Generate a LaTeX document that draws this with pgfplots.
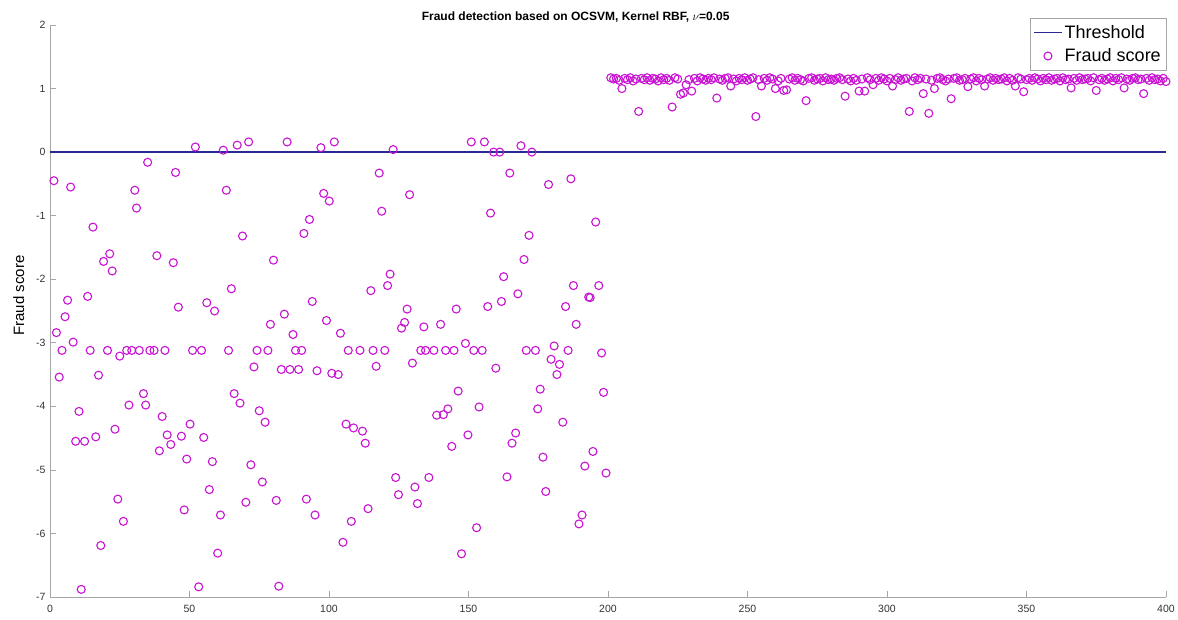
\documentclass[border=0pt]{standalone}
\usepackage{pgfplots}
\pgfplotsset{compat=1.18}
\usepackage{pgfplotstable}
\usepackage{fontspec}
\setmainfont{Liberation Sans}
\definecolor{thr}{RGB}{40,40,150}
\definecolor{mag}{RGB}{200,20,210}

\pgfplotstableread[row sep=\\]{
x y\\
1.4 -0.45\\ 2.3 -2.84\\ 3.3 -3.54\\ 4.3 -3.12\\ 5.4 -2.59\\ 6.3 -2.33\\ 7.4 -0.55\\ 8.3 -2.99\\ 9.2 -4.55\\ 10.4 -4.08\\
11.2 -6.88\\ 12.4 -4.55\\ 13.5 -2.27\\ 14.4 -3.12\\ 15.4 -1.18\\ 16.4 -4.48\\ 17.4 -3.51\\ 18.2 -6.19\\ 19.2 -1.72\\ 20.6 -3.12\\
21.4 -1.60\\ 22.3 -1.87\\ 23.3 -4.36\\ 24.3 -5.46\\ 25.0 -3.21\\ 26.3 -5.81\\ 27.5 -3.12\\ 28.3 -3.98\\ 29.3 -3.12\\ 30.4 -0.60\\
31.0 -0.88\\ 32.0 -3.12\\ 33.5 -3.80\\ 34.3 -3.98\\ 35.0 -0.16\\ 35.8 -3.12\\ 37.3 -3.12\\ 38.3 -1.63\\ 39.2 -4.70\\ 40.2 -4.16\\
41.2 -3.12\\ 42.0 -4.45\\ 43.3 -4.60\\ 44.2 -1.74\\ 45.0 -0.32\\ 46.0 -2.44\\ 47.1 -4.47\\ 48.1 -5.63\\ 49.0 -4.83\\ 50.2 -4.28\\
51.1 -3.12\\ 52.1 0.08\\ 53.3 -6.84\\ 54.3 -3.12\\ 55.1 -4.49\\ 56.2 -2.37\\ 57.1 -5.31\\ 58.2 -4.87\\ 59.0 -2.50\\ 60.1 -6.31\\
61.1 -5.71\\ 62.1 0.03\\ 63.2 -0.60\\ 64.0 -3.12\\ 65.0 -2.15\\ 66.0 -3.80\\ 67.1 0.11\\ 68.1 -3.95\\ 69.0 -1.32\\ 70.2 -5.51\\
71.2 0.16\\ 72.0 -4.92\\ 73.1 -3.38\\ 74.2 -3.12\\ 75.0 -4.07\\ 76.1 -5.19\\ 77.1 -4.25\\ 78.1 -3.12\\ 79.0 -2.71\\ 80.1 -1.70\\
81.1 -5.48\\ 82.0 -6.83\\ 82.9 -3.42\\ 84.0 -2.55\\ 85.0 0.16\\ 86.0 -3.42\\ 87.1 -2.87\\ 88.0 -3.12\\ 89.1 -3.42\\ 90.2 -3.12\\
91.0 -1.28\\ 91.9 -5.46\\ 93.0 -1.06\\ 94.0 -2.35\\ 95.0 -5.71\\ 95.7 -3.44\\ 97.1 0.07\\ 98.1 -0.65\\ 99.1 -2.65\\ 100.1 -0.77\\
101.0 -3.48\\ 101.9 0.16\\ 103.3 -3.50\\ 104.1 -2.85\\ 105.0 -6.14\\ 106.1 -4.28\\ 106.9 -3.12\\ 108.0 -5.81\\ 108.8 -4.34\\ 111.1 -3.12\\
112.0 -4.39\\ 113.0 -4.58\\ 114.0 -5.61\\ 115.0 -2.18\\ 115.8 -3.12\\ 116.9 -3.37\\ 118.0 -0.33\\ 118.9 -0.93\\ 120.0 -3.12\\ 121.0 -2.10\\
121.9 -1.92\\ 123.0 0.04\\ 123.9 -5.12\\ 124.9 -5.39\\ 126.0 -2.77\\ 127.1 -2.68\\ 128.0 -2.47\\ 128.9 -0.67\\ 129.9 -3.32\\ 130.8 -5.27\\
131.7 -5.53\\ 132.9 -3.12\\ 134.0 -2.75\\ 134.6 -3.12\\ 135.8 -5.12\\ 137.6 -3.12\\ 138.6 -4.14\\ 140.0 -2.71\\ 141.0 -4.13\\ 141.8 -3.12\\
142.6 -4.04\\ 144.0 -4.63\\ 144.8 -3.12\\ 145.6 -2.47\\ 146.3 -3.76\\ 147.5 -6.32\\ 148.9 -3.01\\ 149.8 -4.45\\ 151.0 0.16\\ 151.9 -3.12\\
152.9 -5.91\\ 153.8 -4.01\\ 154.9 -3.12\\ 155.7 0.16\\ 156.9 -2.43\\ 157.9 -0.96\\ 159.0 0.00\\ 159.8 -3.40\\ 161.2 0.00\\ 161.8 -2.35\\
162.6 -1.96\\ 163.8 -5.11\\ 164.8 -0.33\\ 165.6 -4.58\\ 166.9 -4.42\\ 167.7 -2.23\\ 168.8 0.10\\ 169.9 -1.69\\ 170.7 -3.12\\ 171.7 -1.31\\
172.7 0.00\\ 174.0 -3.12\\ 174.8 -4.04\\ 175.7 -3.73\\ 176.7 -4.80\\ 177.7 -5.34\\ 178.7 -0.51\\ 179.6 -3.26\\ 180.7 -3.05\\ 181.7 -3.50\\
182.6 -3.34\\ 183.8 -4.25\\ 184.8 -2.43\\ 185.7 -3.12\\ 186.7 -0.42\\ 187.6 -2.10\\ 188.6 -2.71\\ 189.6 -5.85\\ 190.7 -5.71\\ 191.7 -4.94\\
193.1 -2.28\\ 193.6 -2.29\\ 194.6 -4.71\\ 195.6 -1.10\\ 196.7 -2.10\\ 197.7 -3.16\\ 198.4 -3.78\\ 199.3 -5.05\\
201 1.17\\ 202 1.15\\ 203 1.16\\ 204 1.13\\ 205 1.00\\ 206 1.16\\ 207 1.14\\ 208 1.17\\ 209 1.12\\ 210 1.15\\
211 0.64\\ 212 1.16\\ 213 1.14\\ 214 1.17\\ 215 1.13\\ 216 1.16\\ 217 1.15\\ 218 1.12\\ 219 1.17\\ 220 1.14\\
221 1.16\\ 222 1.13\\ 223 0.71\\ 224 1.17\\ 225 1.15\\ 226 0.91\\ 227 0.93\\ 228 1.06\\ 229 1.14\\ 230 0.96\\
231 1.16\\ 232 1.12\\ 233 1.17\\ 234 1.15\\ 235 1.13\\ 236 1.16\\ 237 1.14\\ 238 1.17\\ 239 0.85\\ 240 1.15\\
241 1.13\\ 242 1.16\\ 243 1.17\\ 244 1.04\\ 245 1.15\\ 246 1.12\\ 247 1.16\\ 248 1.14\\ 249 1.17\\ 250 1.13\\
251 1.15\\ 252 1.17\\ 253 0.56\\ 254 1.14\\ 255 1.04\\ 256 1.16\\ 257 1.13\\ 258 1.17\\ 259 1.15\\ 260 1.00\\
261 1.12\\ 262 1.16\\ 263 0.97\\ 264 0.98\\ 265 1.15\\ 266 1.17\\ 267 1.13\\ 268 1.16\\ 269 1.14\\ 270 1.12\\
271 0.81\\ 272 1.16\\ 273 1.17\\ 274 1.13\\ 275 1.15\\ 276 1.16\\ 277 1.12\\ 278 1.17\\ 279 1.14\\ 280 1.15\\
281 1.13\\ 282 1.16\\ 283 1.17\\ 284 1.14\\ 285 0.88\\ 286 1.15\\ 287 1.12\\ 288 1.16\\ 289 1.13\\ 290 0.96\\
291 1.15\\ 292 0.96\\ 293 1.17\\ 294 1.14\\ 295 1.06\\ 296 1.16\\ 297 1.13\\ 298 1.17\\ 299 1.15\\ 300 1.12\\
301 1.16\\ 302 1.04\\ 303 1.14\\ 304 1.17\\ 305 1.13\\ 306 1.15\\ 307 1.16\\ 308 0.64\\ 309 1.12\\ 310 1.17\\
311 1.14\\ 312 1.16\\ 313 0.92\\ 314 1.15\\ 315 0.61\\ 316 1.13\\ 317 1.00\\ 318 1.16\\ 319 1.17\\ 320 1.14\\
321 1.12\\ 322 1.15\\ 323 0.84\\ 324 1.16\\ 325 1.17\\ 326 1.13\\ 327 1.14\\ 328 1.16\\ 329 1.03\\ 330 1.15\\
331 1.17\\ 332 1.12\\ 333 1.16\\ 334 1.14\\ 335 1.04\\ 336 1.15\\ 337 1.17\\ 338 1.13\\ 339 1.16\\ 340 1.14\\
341 1.15\\ 342 1.17\\ 343 1.12\\ 344 1.16\\ 345 1.13\\ 346 1.04\\ 347 1.17\\ 348 1.15\\ 349 0.95\\ 350 1.14\\
351 1.16\\ 352 1.13\\ 353 1.17\\ 354 1.15\\ 355 1.12\\ 356 1.16\\ 357 1.14\\ 358 1.17\\ 359 1.13\\ 360 1.15\\
361 1.16\\ 362 1.12\\ 363 1.17\\ 364 1.14\\ 365 1.15\\ 366 1.01\\ 367 1.16\\ 368 1.13\\ 369 1.17\\ 370 1.14\\
371 1.15\\ 372 1.16\\ 373 1.12\\ 374 1.17\\ 375 0.97\\ 376 1.14\\ 377 1.16\\ 378 1.13\\ 379 1.15\\ 380 1.17\\
381 1.12\\ 382 1.16\\ 383 1.14\\ 384 1.17\\ 385 1.01\\ 386 1.15\\ 387 1.13\\ 388 1.16\\ 389 1.17\\ 390 1.14\\
391 1.15\\ 392 0.92\\ 393 1.16\\ 394 1.13\\ 395 1.17\\ 396 1.14\\ 397 1.15\\ 398 1.12\\ 399 1.16\\ 400 1.11\\
}\scores

\begin{document}
\begin{tikzpicture}
\path[use as bounding box] (-50pt,-23pt) rectangle (1128pt,597pt);
\begin{axis}[
  scale only axis, width=1116pt, height=572pt,
  xmin=0, xmax=400, ymin=-7, ymax=2,
  axis x line*=bottom, axis y line*=left,
  xtick={0,50,...,400}, ytick={-7,-6,...,2},
  tick align=inside, major tick length=6pt,
  axis line style={gray!70, line width=0.8pt},
  tick style={gray!70, line width=0.6pt},
  /pgf/number format/assume math mode=true,
  ticklabel style={font=\fontsize{10.5}{12}\selectfont, text=black!80},
  xticklabel style={yshift=-5pt},
  yticklabel style={xshift=-1pt},
  ylabel={Fraud score},
  ylabel style={font=\fontsize{15}{17}\selectfont, at={(axis description cs:-0.028,0.527)}, anchor=center},
  title={Fraud detection based on OCSVM, Kernel RBF, $\nu$=0.05},
  title style={font=\bfseries\fontsize{12}{14}\selectfont, at={(axis description cs:0.471,1)}, anchor=south, yshift=-7pt},
  legend style={at={(rel axis cs:1,1)}, anchor=north east, xshift=0pt, yshift=7pt,
    font=\fontsize{18}{21}\selectfont, draw=gray!70, fill=white, inner xsep=3pt, inner ysep=5pt,
    row sep=5pt},
  legend cell align=left,
  legend image code/.code={\draw[mark repeat=2, mark phase=2, #1] plot coordinates {(0pt,0pt) (14pt,0pt) (28pt,0pt)};},
]
\addplot[thr, line width=1.6pt] coordinates {(0,0) (400,0)};
\addlegendentry{Threshold}
\addplot[only marks, mark=o, mag, mark size=4pt, mark options={line width=1.1pt}]
  table[x=x, y=y] {\scores};
\addlegendentry{Fraud score}
\end{axis}
\end{tikzpicture}
\end{document}
